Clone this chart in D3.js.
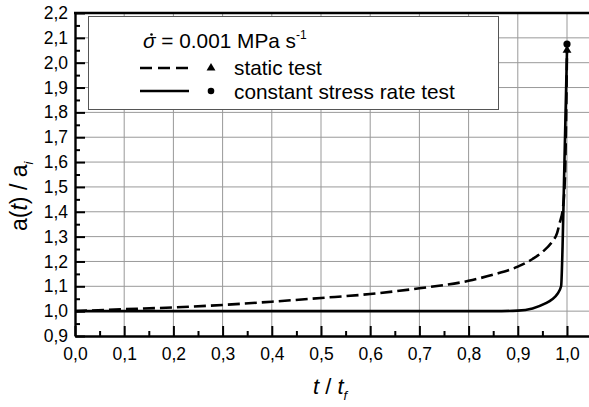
<!DOCTYPE html>
<html>
<head>
<meta charset="utf-8">
<script src="https://cdn.jsdelivr.net/npm/d3@7"></script>
<style>
body { margin: 0; background: #fff; }
svg { display: block; font-family: "Liberation Sans", Arial, sans-serif; }
</style>
</head>
<body>
<div id="chart"></div>
<script>
// static test
var tStatic = [0, 0.1, 0.2, 0.3, 0.4, 0.5, 0.6, 0.7, 0.8, 0.85, 0.9, 0.93, 0.95, 0.97, 0.98, 0.985, 0.992, 0.996, 0.998, 1.0];
var aStatic = [1.0, 1.008, 1.015, 1.025, 1.038, 1.053, 1.069, 1.092, 1.122, 1.147, 1.179, 1.21, 1.238, 1.28, 1.315, 1.354, 1.42, 1.55, 1.75, 2.05];
// constant stress rate test, solid curve
var tRate = [0, 0.5, 0.85, 0.9, 0.93, 0.955, 0.97, 0.98, 0.988, 0.991, 0.994, 0.997, 1.0];
var aRate = [1.0, 1.0, 1.0, 1.002, 1.011, 1.03, 1.048, 1.068, 1.1, 1.26, 1.53, 1.79, 2.05];
// end points
var endStatic = [1.0, 2.05];
var endRate = [1.0, 2.075];

var xTicks = [0, 0.1, 0.2, 0.3, 0.4, 0.5, 0.6, 0.7, 0.8, 0.9, 1.0];
var yTicks = [0.9, 1.0, 1.1, 1.2, 1.3, 1.4, 1.5, 1.6, 1.7, 1.8, 1.9, 2.0, 2.1, 2.2];

var width = 589, height = 407;
var svg = d3.select("#chart").append("svg").attr("width", width).attr("height", height);

var x = d3.scaleLinear().domain([0, 1.05]).range([75, 591.6]);
var y = d3.scaleLinear().domain([0.9, 2.2]).range([336, 13]);

var fmt = function(d) { return d.toFixed(1).replace(".", ","); };

// grid
svg.append("g").selectAll("line")
    .data(xTicks.slice(1))
    .enter().append("line")
    .attr("x1", function(d) { return x(d); })
    .attr("x2", function(d) { return x(d); })
    .attr("y1", y(2.2)).attr("y2", y(0.9))
    .attr("stroke", "#999").attr("stroke-width", 1);
svg.append("g").selectAll("line")
    .data(yTicks.slice(1, -1))
    .enter().append("line")
    .attr("x1", x(0)).attr("x2", width)
    .attr("y1", function(d) { return y(d); })
    .attr("y2", function(d) { return y(d); })
    .attr("stroke", "#999").attr("stroke-width", 1);

// curves
var line = d3.line()
    .x(function(d) { return x(d[0]); })
    .y(function(d) { return y(d[1]); })
    .curve(d3.curveMonotoneX);

svg.append("path")
    .datum(d3.zip(tStatic, aStatic))
    .attr("d", line)
    .attr("fill", "none").attr("stroke", "#000")
    .attr("stroke-width", 2.6).attr("stroke-dasharray", "12,5");
svg.append("path")
    .datum(d3.zip(tRate, aRate))
    .attr("d", line)
    .attr("fill", "none").attr("stroke", "#000")
    .attr("stroke-width", 2.6);

var tri = d3.symbol().type(d3.symbolTriangle).size(34);
svg.append("path")
    .attr("d", tri)
    .attr("transform", "translate(" + x(endStatic[0]) + "," + y(endStatic[1]) + ")");
svg.append("circle")
    .attr("cx", x(endRate[0])).attr("cy", y(endRate[1])).attr("r", 3.6);

// axes
var xAxis = svg.append("g").attr("transform", "translate(0," + y(0.9) + ")")
    .call(d3.axisBottom(x).tickValues(xTicks).tickFormat(fmt).tickSizeInner(-10).tickSizeOuter(0).tickPadding(12));
var xMinor = svg.append("g").attr("transform", "translate(0," + y(0.9) + ")")
    .call(d3.axisBottom(x).tickValues(xTicks.slice(0, -1).map(function(d) { return d + 0.05; }))
        .tickFormat("").tickSizeInner(-5).tickSizeOuter(0));
var yAxis = svg.append("g").attr("transform", "translate(" + x(0) + ",0)")
    .call(d3.axisLeft(y).tickValues(yTicks).tickFormat(fmt).tickSizeInner(-10).tickSizeOuter(0).tickPadding(7));
var yMinor = svg.append("g").attr("transform", "translate(" + x(0) + ",0)")
    .call(d3.axisLeft(y).tickValues(yTicks.slice(0, -1).map(function(d) { return d + 0.05; }))
        .tickFormat("").tickSizeInner(-5).tickSizeOuter(0));

[xAxis, xMinor, yAxis, yMinor].forEach(function(a) {
    a.attr("font-family", "Liberation Sans, Arial, sans-serif");
    a.select(".domain").attr("stroke-width", 2.4);
    a.selectAll(".tick line").attr("stroke-width", 2);
    a.selectAll(".tick text").attr("font-size", 17.5).attr("fill", "#000");
});
xMinor.select(".domain").remove();
yMinor.select(".domain").remove();
xAxis.selectAll(".tick text").attr("dy", "0.71em");

// top frame
svg.append("line")
    .attr("x1", x(0) - 1).attr("x2", width)
    .attr("y1", y(2.2)).attr("y2", y(2.2))
    .attr("stroke", "#000").attr("stroke-width", 2.4);

// legend
var lg = svg.append("g");
lg.append("rect").attr("x", 88.5).attr("y", 16.5).attr("width", 410).attr("height", 93)
    .attr("fill", "#fff").attr("stroke", "#555").attr("stroke-width", 1);
var t1 = lg.append("text").attr("x", 143).attr("y", 48).attr("font-size", 20.8);
t1.append("tspan").attr("font-style", "italic").text("σ");
t1.append("tspan").text(" = 0.001 MPa s");
t1.append("tspan").attr("font-size", 12).attr("dy", -9).text("-1");
lg.append("circle").attr("cx", 151.5).attr("cy", 34.5).attr("r", 1.3);

lg.append("line").attr("x1", 140).attr("x2", 189).attr("y1", 68).attr("y2", 68)
    .attr("stroke", "#000").attr("stroke-width", 2.6).attr("stroke-dasharray", "12,6");
lg.append("path").attr("d", tri).attr("transform", "translate(211,68)");
lg.append("text").attr("x", 234).attr("y", 75).attr("font-size", 20.8).text("static test");

lg.append("line").attr("x1", 140).attr("x2", 189).attr("y1", 91).attr("y2", 91)
    .attr("stroke", "#000").attr("stroke-width", 2.6);
lg.append("circle").attr("cx", 211).attr("cy", 91).attr("r", 3.3);
lg.append("text").attr("x", 234).attr("y", 99).attr("font-size", 20.8).text("constant stress rate test");

// axis titles
var xt = svg.append("text").attr("x", 313).attr("y", 394).attr("font-size", 22);
xt.append("tspan").attr("font-style", "italic").text("t");
xt.append("tspan").text(" / ");
xt.append("tspan").attr("font-style", "italic").text("t");
xt.append("tspan").attr("font-style", "italic").attr("font-size", 13).attr("dy", 6).text("f");

var yt = svg.append("text").attr("transform", "translate(27,231) rotate(-90)")
    .attr("font-size", 23);
yt.append("tspan").text("a(");
yt.append("tspan").attr("font-style", "italic").text("t");
yt.append("tspan").text(") / a");
yt.append("tspan").attr("font-style", "italic").attr("font-size", 13).attr("dy", 6).text("i");
</script>
</body>
</html>
